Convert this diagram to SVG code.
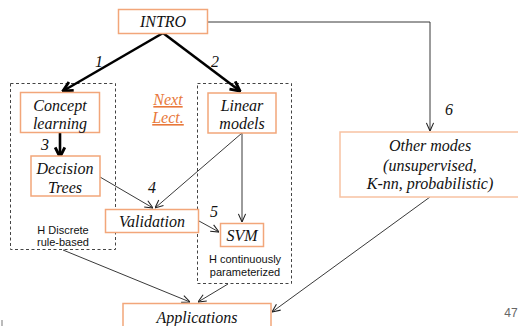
<svg xmlns="http://www.w3.org/2000/svg" width="518" height="326" viewBox="0 0 518 326">
  <style>
    .box { fill: #fff; stroke: #f2a67a; stroke-width: 1.5; }
    .grp { fill: none; stroke: #444; stroke-width: 1; stroke-dasharray: 3 2.5; }
    .t { fill: #111; text-anchor: middle; }
    .num { fill: #111; text-anchor: middle; }
    .note { fill: #111; text-anchor: middle; }
    .link { fill: #e8783a; text-anchor: middle; text-decoration: underline; }
    .thin { fill: none; stroke: #222; stroke-width: 0.9; marker-end: url(#open); }
    .thick { fill: none; stroke: #000; stroke-width: 2.6; marker-end: url(#bold); }
  </style>
  <defs>
    <marker id="open" viewBox="0 0 10 10" refX="10" refY="5" markerWidth="9" markerHeight="9" markerUnits="userSpaceOnUse" orient="auto">
      <path d="M1,1 L10,5 L1,9" fill="none" stroke="#222" stroke-width="1.2"/>
    </marker>
    <marker id="bold" viewBox="0 0 10 10" refX="9" refY="5" markerWidth="12" markerHeight="12" markerUnits="userSpaceOnUse" orient="auto">
      <path d="M1,1 L9,5 L1,9" fill="none" stroke="#000" stroke-width="2.4"/>
    </marker>
  </defs>

  <!-- grouping frames -->
  <g id="group-discrete" font-family="Liberation Sans" font-size="11">
    <rect class="grp" x="10.5" y="83.5" width="105" height="166"/>
    <text class="note" x="63" y="234">H Discrete</text>
    <text class="note" x="63" y="246">rule-based</text>
  </g>
  <g id="group-continuous" font-family="Liberation Sans" font-size="11">
    <rect class="grp" x="197.5" y="83.5" width="94" height="200"/>
    <text class="note" x="245" y="263">H continuously</text>
    <text class="note" x="245" y="276">parameterized</text>
  </g>

  <!-- connectors -->
  <g id="connectors" font-family="Liberation Serif" font-style="italic" font-size="16">
    <path class="thick" d="M163,33 L63,91"/>
    <path class="thick" d="M163,33 L240,91"/>
    <path class="thick" d="M60,133 L60,157"/>
    <path class="thin" d="M207,22 L430,22 L430,131"/>
    <path class="thin" d="M100,177 L153,208"/>
    <path class="thin" d="M242,133 L155,208"/>
    <path class="thin" d="M242,133 L242,222"/>
    <path class="thin" d="M199,221 L219,232"/>
    <path class="thin" d="M63,250 L190,302"/>
    <path class="thin" d="M228,284 L198,302"/>
    <path class="thin" d="M430,197 L272,312"/>
    <text class="num" x="99" y="67">1</text>
    <text class="num" x="215" y="67">2</text>
    <text class="num" x="45" y="150">3</text>
    <text class="num" x="152" y="193">4</text>
    <text class="num" x="214" y="217">5</text>
    <text class="num" x="449" y="115">6</text>
  </g>

  <g id="intro" font-family="Liberation Serif" font-style="italic" font-size="16">
    <rect class="box" x="118.5" y="9.5" width="89" height="24"/>
    <text class="t" x="163" y="27">INTRO</text>
  </g>
  <g id="concept-learning" font-family="Liberation Serif" font-style="italic" font-size="16">
    <rect class="box" x="20.5" y="92.5" width="79" height="40"/>
    <text class="t" x="60" y="111">Concept</text>
    <text class="t" x="60" y="129">learning</text>
  </g>
  <g id="next-lect" font-family="Liberation Serif" font-style="italic" font-size="16">
    <text class="link" x="168" y="105">Next</text>
    <text class="link" x="168" y="123">Lect.</text>
  </g>
  <g id="linear-models" font-family="Liberation Serif" font-style="italic" font-size="16">
    <rect class="box" x="208" y="93" width="68" height="40"/>
    <text class="t" x="242" y="111">Linear</text>
    <text class="t" x="242" y="129">models</text>
  </g>
  <g id="decision-trees" font-family="Liberation Serif" font-style="italic" font-size="16">
    <rect class="box" x="31" y="156" width="69" height="40"/>
    <text class="t" x="65" y="174">Decision</text>
    <text class="t" x="65" y="193">Trees</text>
  </g>
  <g id="validation" font-family="Liberation Serif" font-style="italic" font-size="16">
    <rect class="box" x="105.5" y="209.5" width="93" height="23"/>
    <text class="t" x="152" y="227">Validation</text>
  </g>
  <g id="svm" font-family="Liberation Serif" font-style="italic" font-size="16">
    <rect class="box" x="220.5" y="223.5" width="43" height="23"/>
    <text class="t" x="242" y="241">SVM</text>
  </g>
  <g id="other-modes" font-family="Liberation Serif" font-style="italic" font-size="16">
    <rect class="box" x="340" y="132" width="182" height="65" style="stroke:#f7c2a2"/>
    <text class="t" x="430" y="151">Other modes</text>
    <text class="t" x="430" y="171">(unsupervised,</text>
    <text class="t" x="430" y="189">K-nn, probabilistic)</text>
  </g>
  <g id="applications" font-family="Liberation Serif" font-style="italic" font-size="16">
    <rect class="box" x="123" y="303.5" width="148" height="30"/>
    <text class="t" x="197" y="323">Applications</text>
  </g>

  <text x="511" y="317" font-family="Liberation Sans" font-size="12" fill="#666" text-anchor="middle">47</text>
  <rect x="1" y="320" width="2" height="6" fill="#bbb"/>
</svg>
